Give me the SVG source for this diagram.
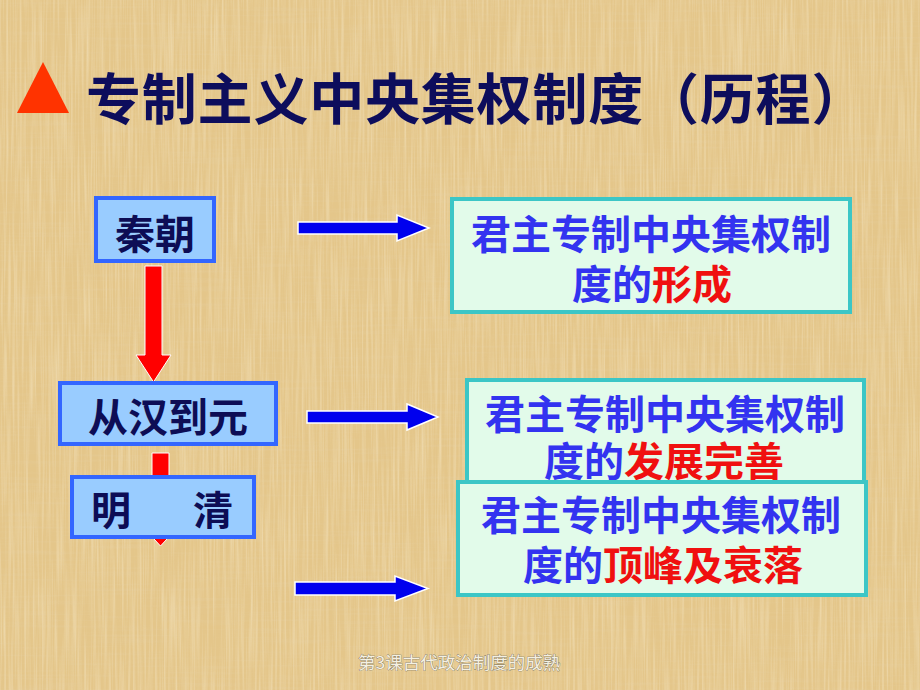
<svg xmlns="http://www.w3.org/2000/svg" width="920" height="690" viewBox="0 0 920 690">
<defs>
<filter id="paperV" x="0" y="0" width="100%" height="100%">
<feTurbulence type="fractalNoise" baseFrequency="0.45 0.012" numOctaves="2" seed="4"/>
<feColorMatrix type="matrix" values="0 0 0 0 0.98  0 0 0 0 0.90  0 0 0 0 0.70  1.4 0 0 0 -0.55"/>
</filter>
<filter id="paperH" x="0" y="0" width="100%" height="100%">
<feTurbulence type="fractalNoise" baseFrequency="0.012 0.35" numOctaves="2" seed="9"/>
<feColorMatrix type="matrix" values="0 0 0 0 0.80  0 0 0 0 0.66  0 0 0 0 0.42  1.3 0 0 0 -0.6"/>
</filter>
<style>
.cjk{font-family:"Noto Sans CJK SC","Noto Sans",sans-serif;font-weight:bold}
.title{font-size:55px;fill:#0d0d5c;letter-spacing:0.8px}
.lbox{fill:#99ccff;stroke:#3366ff;stroke-width:4}
.ltxt{font-size:40px;fill:#0d0d55;text-anchor:middle}
.rbox{fill:#e2fbea;stroke:#3cc6c6;stroke-width:4}
.rtxt{font-size:40px;fill:#3333f0;text-anchor:middle}
.hl{fill:#f01010}
.barrow{fill:#0000ee;stroke:#ffffff;stroke-width:1.5}
.rarrow{fill:#ff0000;stroke:#ffffff;stroke-width:1}
.foot{font-family:"Noto Sans CJK SC","Noto Sans",sans-serif;font-size:17.5px;fill:#f4f0e2;stroke:#6a6656;stroke-width:0.6;paint-order:stroke}
</style>
</defs>
<rect width="920" height="690" fill="#e4c68a"/>
<rect width="920" height="690" filter="url(#paperV)" opacity="0.55"/>
<rect width="920" height="690" filter="url(#paperH)" opacity="0.35"/>

<g id="title">
<polygon points="17,113 43,62 69,113" fill="#ff3300"/>
<text class="cjk title" x="86" y="119">专制主义中央集权制度（历程）</text>
</g>

<g id="connectors">
<polygon class="rarrow" points="145,266 162,266 162,355 171,355 153.5,382 136,355 145,355"/>
<polygon class="rarrow" points="152,453 169,453 169,525 180,525 160.5,546 141,525 152,525"/>
<polygon class="barrow" points="298,222 397,222 397,215 429,228 397,241 397,234 298,234"/>
<polygon class="barrow" points="307,411 407,411 407,404 438,417 407,430 407,423 307,423"/>
<polygon class="barrow" points="295,582 395,582 395,576 428,588.5 395,601 395,595 295,595"/>
</g>

<g id="node-qin">
<rect class="lbox" x="96" y="198" width="118" height="63"/>
<text class="cjk ltxt" x="155" y="249">秦朝</text>
</g>

<g id="node-han-yuan">
<rect class="lbox" x="60" y="383" width="216" height="61"/>
<text class="cjk ltxt" x="168" y="432">从汉到元</text>
</g>

<g id="node-ming-qing">
<rect class="lbox" x="72" y="477" width="182" height="60"/>
<text class="cjk ltxt" style="text-anchor:start" y="525"><tspan x="91">明</tspan><tspan x="193">清</tspan></text>
</g>

<g id="node-formation">
<rect class="rbox" x="452" y="199" width="398" height="113"/>
<text class="cjk rtxt" x="651" y="249">君主专制中央集权制</text>
<text class="cjk rtxt" x="652" y="299">度的<tspan class="hl">形成</tspan></text>
</g>

<g id="node-development">
<rect class="rbox" x="467" y="380" width="397" height="110"/>
<text class="cjk rtxt" x="665" y="429">君主专制中央集权制</text>
<text class="cjk rtxt" x="664" y="476">度的<tspan class="hl">发展完善</tspan></text>
</g>

<g id="node-peak">
<rect class="rbox" x="458" y="482" width="408" height="113"/>
<text class="cjk rtxt" x="661" y="530">君主专制中央集权制</text>
<text class="cjk rtxt" x="663" y="580">度的<tspan class="hl">顶峰及衰落</tspan></text>
</g>

<g id="footer">
<text class="foot" x="358" y="669">第3课古代政治制度的成熟</text>
</g>
</svg>
